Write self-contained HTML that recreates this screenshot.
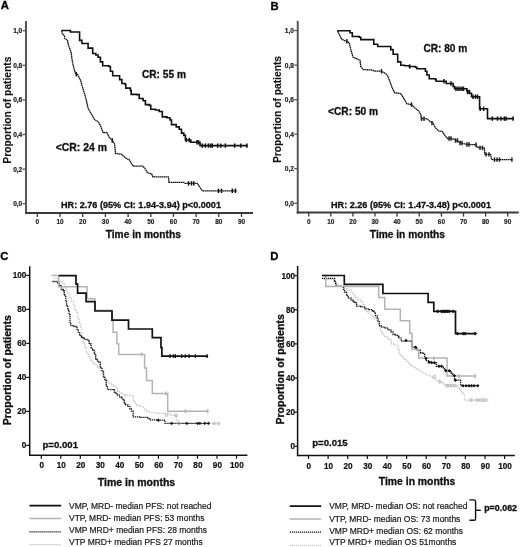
<!DOCTYPE html>
<html><head><meta charset="utf-8"><style>
html,body{margin:0;padding:0;background:#fff;}
svg{display:block;font-family:"Liberation Sans", sans-serif;filter:blur(0.35px);}
</style></head><body>
<svg width="520" height="547" viewBox="0 0 520 547">
<rect width="520" height="547" fill="#fff"/>
<line x1="26" y1="21" x2="26" y2="213.9" stroke="#585858" stroke-width="2"/>
<line x1="25" y1="212.9" x2="253.0" y2="212.9" stroke="#3a3a3a" stroke-width="2"/>
<line x1="22.5" y1="30.7" x2="26" y2="30.7" stroke="#585858" stroke-width="1.3"/>
<text x="22.3" y="33.1" font-size="6.6" font-weight="bold" text-anchor="end" fill="#222" stroke="#222" stroke-width="0.2" >1,0</text>
<line x1="22.5" y1="65.3" x2="26" y2="65.3" stroke="#585858" stroke-width="1.3"/>
<text x="22.3" y="67.7" font-size="6.6" font-weight="bold" text-anchor="end" fill="#222" stroke="#222" stroke-width="0.2" >0,8</text>
<line x1="22.5" y1="99.9" x2="26" y2="99.9" stroke="#585858" stroke-width="1.3"/>
<text x="22.3" y="102.3" font-size="6.6" font-weight="bold" text-anchor="end" fill="#222" stroke="#222" stroke-width="0.2" >0,6</text>
<line x1="22.5" y1="134.5" x2="26" y2="134.5" stroke="#585858" stroke-width="1.3"/>
<text x="22.3" y="136.9" font-size="6.6" font-weight="bold" text-anchor="end" fill="#222" stroke="#222" stroke-width="0.2" >0,4</text>
<line x1="22.5" y1="169.1" x2="26" y2="169.1" stroke="#585858" stroke-width="1.3"/>
<text x="22.3" y="171.5" font-size="6.6" font-weight="bold" text-anchor="end" fill="#222" stroke="#222" stroke-width="0.2" >0,2</text>
<line x1="22.5" y1="203.7" x2="26" y2="203.7" stroke="#585858" stroke-width="1.3"/>
<text x="22.3" y="206.1" font-size="6.6" font-weight="bold" text-anchor="end" fill="#222" stroke="#222" stroke-width="0.2" >0,0</text>
<line x1="37.3" y1="212.9" x2="37.3" y2="216.9" stroke="#3a3a3a" stroke-width="1.3"/>
<text x="0" y="0" font-size="8.1" font-weight="bold" text-anchor="middle" fill="#222" stroke="#222" stroke-width="0.2" transform="translate(37.3,223.8) scale(0.8,1)">0</text>
<line x1="60.0" y1="212.9" x2="60.0" y2="216.9" stroke="#3a3a3a" stroke-width="1.3"/>
<text x="0" y="0" font-size="8.1" font-weight="bold" text-anchor="middle" fill="#222" stroke="#222" stroke-width="0.2" transform="translate(60.0,223.8) scale(0.8,1)">10</text>
<line x1="82.7" y1="212.9" x2="82.7" y2="216.9" stroke="#3a3a3a" stroke-width="1.3"/>
<text x="0" y="0" font-size="8.1" font-weight="bold" text-anchor="middle" fill="#222" stroke="#222" stroke-width="0.2" transform="translate(82.7,223.8) scale(0.8,1)">20</text>
<line x1="105.4" y1="212.9" x2="105.4" y2="216.9" stroke="#3a3a3a" stroke-width="1.3"/>
<text x="0" y="0" font-size="8.1" font-weight="bold" text-anchor="middle" fill="#222" stroke="#222" stroke-width="0.2" transform="translate(105.4,223.8) scale(0.8,1)">30</text>
<line x1="128.1" y1="212.9" x2="128.1" y2="216.9" stroke="#3a3a3a" stroke-width="1.3"/>
<text x="0" y="0" font-size="8.1" font-weight="bold" text-anchor="middle" fill="#222" stroke="#222" stroke-width="0.2" transform="translate(128.1,223.8) scale(0.8,1)">40</text>
<line x1="150.8" y1="212.9" x2="150.8" y2="216.9" stroke="#3a3a3a" stroke-width="1.3"/>
<text x="0" y="0" font-size="8.1" font-weight="bold" text-anchor="middle" fill="#222" stroke="#222" stroke-width="0.2" transform="translate(150.8,223.8) scale(0.8,1)">50</text>
<line x1="173.4" y1="212.9" x2="173.4" y2="216.9" stroke="#3a3a3a" stroke-width="1.3"/>
<text x="0" y="0" font-size="8.1" font-weight="bold" text-anchor="middle" fill="#222" stroke="#222" stroke-width="0.2" transform="translate(173.4,223.8) scale(0.8,1)">60</text>
<line x1="196.1" y1="212.9" x2="196.1" y2="216.9" stroke="#3a3a3a" stroke-width="1.3"/>
<text x="0" y="0" font-size="8.1" font-weight="bold" text-anchor="middle" fill="#222" stroke="#222" stroke-width="0.2" transform="translate(196.1,223.8) scale(0.8,1)">70</text>
<line x1="218.8" y1="212.9" x2="218.8" y2="216.9" stroke="#3a3a3a" stroke-width="1.3"/>
<text x="0" y="0" font-size="8.1" font-weight="bold" text-anchor="middle" fill="#222" stroke="#222" stroke-width="0.2" transform="translate(218.8,223.8) scale(0.8,1)">80</text>
<line x1="241.5" y1="212.9" x2="241.5" y2="216.9" stroke="#3a3a3a" stroke-width="1.3"/>
<text x="0" y="0" font-size="8.1" font-weight="bold" text-anchor="middle" fill="#222" stroke="#222" stroke-width="0.2" transform="translate(241.5,223.8) scale(0.8,1)">90</text>
<line x1="297.75" y1="21" x2="297.75" y2="213.6" stroke="#585858" stroke-width="2"/>
<line x1="296.75" y1="212.6" x2="518.8" y2="212.6" stroke="#3a3a3a" stroke-width="2"/>
<line x1="294.25" y1="30.5" x2="297.75" y2="30.5" stroke="#585858" stroke-width="1.3"/>
<text x="294.0" y="32.9" font-size="6.6" font-weight="bold" text-anchor="end" fill="#222" stroke="#222" stroke-width="0.2" >1,0</text>
<line x1="294.25" y1="65.1" x2="297.75" y2="65.1" stroke="#585858" stroke-width="1.3"/>
<text x="294.0" y="67.5" font-size="6.6" font-weight="bold" text-anchor="end" fill="#222" stroke="#222" stroke-width="0.2" >0,8</text>
<line x1="294.25" y1="99.8" x2="297.75" y2="99.8" stroke="#585858" stroke-width="1.3"/>
<text x="294.0" y="102.2" font-size="6.6" font-weight="bold" text-anchor="end" fill="#222" stroke="#222" stroke-width="0.2" >0,6</text>
<line x1="294.25" y1="134.2" x2="297.75" y2="134.2" stroke="#585858" stroke-width="1.3"/>
<text x="294.0" y="136.6" font-size="6.6" font-weight="bold" text-anchor="end" fill="#222" stroke="#222" stroke-width="0.2" >0,4</text>
<line x1="294.25" y1="168.7" x2="297.75" y2="168.7" stroke="#585858" stroke-width="1.3"/>
<text x="294.0" y="171.1" font-size="6.6" font-weight="bold" text-anchor="end" fill="#222" stroke="#222" stroke-width="0.2" >0,2</text>
<line x1="294.25" y1="203.3" x2="297.75" y2="203.3" stroke="#585858" stroke-width="1.3"/>
<text x="294.0" y="205.7" font-size="6.6" font-weight="bold" text-anchor="end" fill="#222" stroke="#222" stroke-width="0.2" >0,0</text>
<line x1="308.7" y1="212.6" x2="308.7" y2="216.6" stroke="#3a3a3a" stroke-width="1.3"/>
<text x="0" y="0" font-size="8.1" font-weight="bold" text-anchor="middle" fill="#222" stroke="#222" stroke-width="0.2" transform="translate(308.7,223.5) scale(0.8,1)">0</text>
<line x1="330.8" y1="212.6" x2="330.8" y2="216.6" stroke="#3a3a3a" stroke-width="1.3"/>
<text x="0" y="0" font-size="8.1" font-weight="bold" text-anchor="middle" fill="#222" stroke="#222" stroke-width="0.2" transform="translate(330.8,223.5) scale(0.8,1)">10</text>
<line x1="352.9" y1="212.6" x2="352.9" y2="216.6" stroke="#3a3a3a" stroke-width="1.3"/>
<text x="0" y="0" font-size="8.1" font-weight="bold" text-anchor="middle" fill="#222" stroke="#222" stroke-width="0.2" transform="translate(352.9,223.5) scale(0.8,1)">20</text>
<line x1="375.0" y1="212.6" x2="375.0" y2="216.6" stroke="#3a3a3a" stroke-width="1.3"/>
<text x="0" y="0" font-size="8.1" font-weight="bold" text-anchor="middle" fill="#222" stroke="#222" stroke-width="0.2" transform="translate(375.0,223.5) scale(0.8,1)">30</text>
<line x1="397.1" y1="212.6" x2="397.1" y2="216.6" stroke="#3a3a3a" stroke-width="1.3"/>
<text x="0" y="0" font-size="8.1" font-weight="bold" text-anchor="middle" fill="#222" stroke="#222" stroke-width="0.2" transform="translate(397.1,223.5) scale(0.8,1)">40</text>
<line x1="419.2" y1="212.6" x2="419.2" y2="216.6" stroke="#3a3a3a" stroke-width="1.3"/>
<text x="0" y="0" font-size="8.1" font-weight="bold" text-anchor="middle" fill="#222" stroke="#222" stroke-width="0.2" transform="translate(419.2,223.5) scale(0.8,1)">50</text>
<line x1="441.4" y1="212.6" x2="441.4" y2="216.6" stroke="#3a3a3a" stroke-width="1.3"/>
<text x="0" y="0" font-size="8.1" font-weight="bold" text-anchor="middle" fill="#222" stroke="#222" stroke-width="0.2" transform="translate(441.4,223.5) scale(0.8,1)">60</text>
<line x1="463.5" y1="212.6" x2="463.5" y2="216.6" stroke="#3a3a3a" stroke-width="1.3"/>
<text x="0" y="0" font-size="8.1" font-weight="bold" text-anchor="middle" fill="#222" stroke="#222" stroke-width="0.2" transform="translate(463.5,223.5) scale(0.8,1)">70</text>
<line x1="485.6" y1="212.6" x2="485.6" y2="216.6" stroke="#3a3a3a" stroke-width="1.3"/>
<text x="0" y="0" font-size="8.1" font-weight="bold" text-anchor="middle" fill="#222" stroke="#222" stroke-width="0.2" transform="translate(485.6,223.5) scale(0.8,1)">80</text>
<line x1="507.7" y1="212.6" x2="507.7" y2="216.6" stroke="#3a3a3a" stroke-width="1.3"/>
<text x="0" y="0" font-size="8.1" font-weight="bold" text-anchor="middle" fill="#222" stroke="#222" stroke-width="0.2" transform="translate(507.7,223.5) scale(0.8,1)">90</text>
<text x="0.8" y="9.3" font-size="11.3" font-weight="bold" text-anchor="start" fill="#000" stroke="#000" stroke-width="0.3" >A</text>
<text x="270.6" y="9.6" font-size="11.3" font-weight="bold" text-anchor="start" fill="#000" stroke="#000" stroke-width="0.3" >B</text>
<text x="0.3" y="260.3" font-size="11.3" font-weight="bold" text-anchor="start" fill="#000" stroke="#000" stroke-width="0.3" >C</text>
<text x="270.3" y="260.3" font-size="11.3" font-weight="bold" text-anchor="start" fill="#000" stroke="#000" stroke-width="0.3" >D</text>
<text x="0" y="0" font-size="10.25" font-weight="bold" text-anchor="middle" fill="#111" stroke="#111" stroke-width="0.1" transform="translate(11.3,110.1) rotate(-90)">Proportion of patients</text>
<text x="0" y="0" font-size="10.25" font-weight="bold" text-anchor="middle" fill="#111" stroke="#111" stroke-width="0.1" transform="translate(281.0,109.5) rotate(-90)">Proportion of patients</text>
<text x="0" y="0" font-size="10.57" font-weight="bold" text-anchor="middle" fill="#111" stroke="#111" stroke-width="0.3" transform="translate(10.8,370.2) rotate(-90)">Proportion of patients</text>
<text x="0" y="0" font-size="10.57" font-weight="bold" text-anchor="middle" fill="#111" stroke="#111" stroke-width="0.3" transform="translate(283.7,369.4) rotate(-90)">Proportion of patients</text>
<text x="143.3" y="237.7" font-size="10.2" font-weight="bold" text-anchor="middle" fill="#111" stroke="#111" stroke-width="0.3" >Time in months</text>
<text x="407.4" y="238.1" font-size="10.2" font-weight="bold" text-anchor="middle" fill="#111" stroke="#111" stroke-width="0.3" >Time in months</text>
<text x="136.5" y="485.6" font-size="10.5" font-weight="bold" text-anchor="middle" fill="#111" stroke="#111" stroke-width="0.3" >Time in months</text>
<text x="417.1" y="485.4" font-size="10.4" font-weight="bold" text-anchor="middle" fill="#111" stroke="#111" stroke-width="0.3" >Time in months</text>
<text x="142.0" y="78.0" font-size="10.15" font-weight="bold" text-anchor="start" fill="#111" stroke="#111" stroke-width="0.3" >CR: 55 m</text>
<text x="55.8" y="151.0" font-size="10.4" font-weight="bold" text-anchor="start" fill="#111" stroke="#111" stroke-width="0.3" >&lt;CR: 24 m</text>
<text x="61.0" y="208.0" font-size="9.1" font-weight="bold" text-anchor="start" fill="#111" stroke="#111" stroke-width="0.3" >HR: 2.76 (95% CI: 1.94-3.94) p&lt;0.0001</text>
<text x="423.4" y="51.7" font-size="10.15" font-weight="bold" text-anchor="start" fill="#111" stroke="#111" stroke-width="0.3" >CR: 80 m</text>
<text x="328.0" y="115.0" font-size="10.2" font-weight="bold" text-anchor="start" fill="#111" stroke="#111" stroke-width="0.3" >&lt;CR: 50 m</text>
<text x="331.0" y="207.9" font-size="9.1" font-weight="bold" text-anchor="start" fill="#111" stroke="#111" stroke-width="0.3" >HR: 2.26 (95% CI: 1.47-3.48) p&lt;0.0001</text>
<path d="M61.5 30.5L61.7 30.9L62.4 33.8L64.6 36.0L64.6 38.2L67.5 40.4L68.2 44.1L69.7 48.5L71.2 52.9L71.9 58.7L72.6 63.1L74.1 68.9L75.5 73.3L77.7 74.8L79.2 77.7L80.7 80.6L82.1 85.7L83.6 90.9L85.0 95.3L86.5 101.1L88.0 108.0L89.2 110.4L91.5 114.2L94.6 119.6L98.5 121.9L100.8 126.5L103.1 132.7L106.9 132.7L109.2 137.3L112.3 140.4L114.6 144.2L115.5 153.5L121.5 154.2L126.2 158.5L129.2 159.6L130.8 162.7L133.4 166.2L142.8 166.2L144.8 168.2L147.5 172.9L151.5 173.6L152.9 176.9L168.4 176.9L169.0 182.3L183.8 182.3L185.2 183.4L197.3 183.4L202.3 190.8L236.9 190.8" fill="none" stroke="#111" stroke-width="1.3" stroke-dasharray="1.6 0.4"/>
<path d="M61.5 30.5H70.4V32.0H77.8H79.6V40.4H81.9V43.5H88.1V48.1H91.9H92.7V53.5H95.8V55.0H98.1V57.3H100.4V61.9H102.7V65.8H108.8V66.5H110.4V71.2H112.7V75.8H118.1H119.6V79.6H121.9V83.5H125.0V84.2H125.8V88.1H130.4V90.4H131.2V94.4H136.9V94.6H139.2V98.5H143.1V100.8H145.4V104.6H149.2V105.4H150.8V109.2H155.4V110.0H159.2V111.5H162.3V116.9H166.9V117.7H170.0V120.0H171.5V124.6H176.2V126.9H179.2V129.2H181.5V133.1H183.8V135.4H185.4V140.0H189.2H190.8V142.3H198.5H200.0V145.6H247.7" fill="none" stroke="#111" stroke-width="1.6"/>
<line x1="186.2" y1="137.8" x2="186.2" y2="142.2" stroke="#111" stroke-width="1.5"/>
<line x1="189.2" y1="137.8" x2="189.2" y2="142.2" stroke="#111" stroke-width="1.5"/>
<line x1="197" y1="140.10000000000002" x2="197" y2="144.5" stroke="#111" stroke-width="1.5"/>
<line x1="198.5" y1="140.10000000000002" x2="198.5" y2="144.5" stroke="#111" stroke-width="1.5"/>
<line x1="202.3" y1="143.4" x2="202.3" y2="147.79999999999998" stroke="#111" stroke-width="1.5"/>
<line x1="205.4" y1="143.4" x2="205.4" y2="147.79999999999998" stroke="#111" stroke-width="1.5"/>
<line x1="208.5" y1="143.4" x2="208.5" y2="147.79999999999998" stroke="#111" stroke-width="1.5"/>
<line x1="210.8" y1="143.4" x2="210.8" y2="147.79999999999998" stroke="#111" stroke-width="1.5"/>
<line x1="212.3" y1="143.4" x2="212.3" y2="147.79999999999998" stroke="#111" stroke-width="1.5"/>
<line x1="217.7" y1="143.4" x2="217.7" y2="147.79999999999998" stroke="#111" stroke-width="1.5"/>
<line x1="220.8" y1="143.4" x2="220.8" y2="147.79999999999998" stroke="#111" stroke-width="1.5"/>
<line x1="225.4" y1="143.4" x2="225.4" y2="147.79999999999998" stroke="#111" stroke-width="1.5"/>
<line x1="234.6" y1="143.4" x2="234.6" y2="147.79999999999998" stroke="#111" stroke-width="1.5"/>
<line x1="240.8" y1="143.4" x2="240.8" y2="147.79999999999998" stroke="#111" stroke-width="1.5"/>
<line x1="246.9" y1="143.4" x2="246.9" y2="147.79999999999998" stroke="#111" stroke-width="1.5"/>
<line x1="188.5" y1="181.20000000000002" x2="188.5" y2="185.6" stroke="#111" stroke-width="1.5"/>
<line x1="191.5" y1="181.20000000000002" x2="191.5" y2="185.6" stroke="#111" stroke-width="1.5"/>
<line x1="193.8" y1="181.20000000000002" x2="193.8" y2="185.6" stroke="#111" stroke-width="1.5"/>
<line x1="112.3" y1="138.20000000000002" x2="112.3" y2="142.6" stroke="#111" stroke-width="1.5"/>
<line x1="76.3" y1="72.0" x2="76.3" y2="76.4" stroke="#111" stroke-width="1.5"/>
<line x1="218.5" y1="188.60000000000002" x2="218.5" y2="193.0" stroke="#111" stroke-width="1.5"/>
<line x1="221.5" y1="188.60000000000002" x2="221.5" y2="193.0" stroke="#111" stroke-width="1.5"/>
<line x1="232.3" y1="188.60000000000002" x2="232.3" y2="193.0" stroke="#111" stroke-width="1.5"/>
<line x1="235.4" y1="188.60000000000002" x2="235.4" y2="193.0" stroke="#111" stroke-width="1.5"/>
<path d="M337.4 30.8L339.2 34.2L341.5 38.8L343.8 40.4L346.9 41.2L349.2 42.7L350.8 49.6L353.1 57.3L356.9 58.8L360.0 60.4L360.8 66.5L363.1 69.6L371.5 69.9L374.6 71.2L381.5 71.2L385.4 73.5L387.7 75.8L390.0 81.9L392.3 88.1L394.6 92.7L400.8 93.5L403.1 97.3L406.9 103.8L411.5 104.6L414.6 107.7L418.5 110.8L420.8 114.6L421.5 118.5L426.9 118.8L430.0 121.5L433.1 123.1L435.4 127.7L438.5 130.8L442.3 131.5L445.4 136.2L447.7 138.5L452.3 138.5L455.4 140.0L458.5 141.5L461.5 143.1L466.9 144.4L476.1 144.8L477.3 147.3L484.2 147.9L484.8 154.2L490.6 154.5L491.7 159.6L511.9 159.6" fill="none" stroke="#111" stroke-width="1.3" stroke-dasharray="1.6 0.4"/>
<path d="M337.4 30.8H348.5H350.0V32.7H352.3V36.5H359.2V37.3H360.8V39.6H371.5H373.8V44.2H377.7V46.5H388.5H390.8V49.6H393.1V54.2H397.7V61.9H400.8V65.3H404.6V65.8H409.2V66.5H415.4V67.3H416.9V68.8H423.1H425.4V71.2H426.9V75.0H429.2V78.8H435.4V79.6H436.2V81.2H443.1H446.2V83.5H450.8H453.1V86.5H454.6V88.8H465.2H466.9V91.0H469.2V93.3H471.5V96.7H479.0H479.6V108.8H487.1H487.5V118.6H513.6" fill="none" stroke="#111" stroke-width="1.6"/>
<line x1="409.7" y1="64.3" x2="409.7" y2="68.7" stroke="#111" stroke-width="1.5"/>
<line x1="444" y1="79.0" x2="444" y2="83.4" stroke="#111" stroke-width="1.5"/>
<line x1="451" y1="81.3" x2="451" y2="85.7" stroke="#111" stroke-width="1.5"/>
<line x1="456" y1="86.6" x2="456" y2="91.0" stroke="#111" stroke-width="1.5"/>
<line x1="458" y1="86.6" x2="458" y2="91.0" stroke="#111" stroke-width="1.5"/>
<line x1="460" y1="86.6" x2="460" y2="91.0" stroke="#111" stroke-width="1.5"/>
<line x1="462" y1="86.6" x2="462" y2="91.0" stroke="#111" stroke-width="1.5"/>
<line x1="463.5" y1="86.6" x2="463.5" y2="91.0" stroke="#111" stroke-width="1.5"/>
<line x1="467.5" y1="89.8" x2="467.5" y2="94.2" stroke="#111" stroke-width="1.5"/>
<line x1="469.5" y1="89.8" x2="469.5" y2="94.2" stroke="#111" stroke-width="1.5"/>
<line x1="473" y1="94.5" x2="473" y2="98.9" stroke="#111" stroke-width="1.5"/>
<line x1="475.5" y1="94.5" x2="475.5" y2="98.9" stroke="#111" stroke-width="1.5"/>
<line x1="477.5" y1="94.5" x2="477.5" y2="98.9" stroke="#111" stroke-width="1.5"/>
<line x1="480.2" y1="106.6" x2="480.2" y2="111.0" stroke="#111" stroke-width="1.5"/>
<line x1="483.6" y1="106.6" x2="483.6" y2="111.0" stroke="#111" stroke-width="1.5"/>
<line x1="492.3" y1="116.39999999999999" x2="492.3" y2="120.8" stroke="#111" stroke-width="1.5"/>
<line x1="497.5" y1="116.39999999999999" x2="497.5" y2="120.8" stroke="#111" stroke-width="1.5"/>
<line x1="501" y1="116.39999999999999" x2="501" y2="120.8" stroke="#111" stroke-width="1.5"/>
<line x1="504.4" y1="116.39999999999999" x2="504.4" y2="120.8" stroke="#111" stroke-width="1.5"/>
<line x1="506.1" y1="116.39999999999999" x2="506.1" y2="120.8" stroke="#111" stroke-width="1.5"/>
<line x1="513.1" y1="116.39999999999999" x2="513.1" y2="120.8" stroke="#111" stroke-width="1.5"/>
<line x1="346.9" y1="39.0" x2="346.9" y2="43.400000000000006" stroke="#222" stroke-width="1.5"/>
<line x1="381.5" y1="69.0" x2="381.5" y2="73.4" stroke="#222" stroke-width="1.5"/>
<line x1="411.5" y1="102.39999999999999" x2="411.5" y2="106.8" stroke="#222" stroke-width="1.5"/>
<line x1="421.5" y1="116.5" x2="421.5" y2="120.9" stroke="#222" stroke-width="1.5"/>
<line x1="424" y1="116.5" x2="424" y2="120.9" stroke="#222" stroke-width="1.5"/>
<line x1="432" y1="120.89999999999999" x2="432" y2="125.3" stroke="#222" stroke-width="1.5"/>
<line x1="449" y1="136.3" x2="449" y2="140.7" stroke="#222" stroke-width="1.5"/>
<line x1="451" y1="136.3" x2="451" y2="140.7" stroke="#222" stroke-width="1.5"/>
<line x1="455.5" y1="138.3" x2="455.5" y2="142.7" stroke="#222" stroke-width="1.5"/>
<line x1="457.5" y1="138.3" x2="457.5" y2="142.7" stroke="#222" stroke-width="1.5"/>
<line x1="460" y1="140.8" x2="460" y2="145.2" stroke="#222" stroke-width="1.5"/>
<line x1="462" y1="140.8" x2="462" y2="145.2" stroke="#222" stroke-width="1.5"/>
<line x1="467" y1="142.3" x2="467" y2="146.7" stroke="#222" stroke-width="1.5"/>
<line x1="469" y1="142.3" x2="469" y2="146.7" stroke="#222" stroke-width="1.5"/>
<line x1="476" y1="142.60000000000002" x2="476" y2="147.0" stroke="#222" stroke-width="1.5"/>
<line x1="480" y1="145.70000000000002" x2="480" y2="150.1" stroke="#222" stroke-width="1.5"/>
<line x1="482.5" y1="145.70000000000002" x2="482.5" y2="150.1" stroke="#222" stroke-width="1.5"/>
<line x1="486" y1="152.20000000000002" x2="486" y2="156.6" stroke="#222" stroke-width="1.5"/>
<line x1="489" y1="152.20000000000002" x2="489" y2="156.6" stroke="#222" stroke-width="1.5"/>
<line x1="494.5" y1="157.4" x2="494.5" y2="161.79999999999998" stroke="#222" stroke-width="1.5"/>
<line x1="497" y1="157.4" x2="497" y2="161.79999999999998" stroke="#222" stroke-width="1.5"/>
<line x1="499.5" y1="157.4" x2="499.5" y2="161.79999999999998" stroke="#222" stroke-width="1.5"/>
<line x1="511.9" y1="157.4" x2="511.9" y2="161.79999999999998" stroke="#222" stroke-width="1.5"/>
<line x1="29.7" y1="266.3" x2="29.7" y2="455.9" stroke="#111" stroke-width="1.5"/>
<line x1="29.0" y1="455.2" x2="247.4" y2="455.2" stroke="#111" stroke-width="1.5"/>
<line x1="26.2" y1="275.4" x2="29.7" y2="275.4" stroke="#111" stroke-width="1.2"/>
<text x="26.3" y="278.3" font-size="8.2" font-weight="bold" text-anchor="end" fill="#111" stroke="#111" stroke-width="0.2" >100</text>
<line x1="26.2" y1="309.4" x2="29.7" y2="309.4" stroke="#111" stroke-width="1.2"/>
<text x="26.3" y="312.3" font-size="8.2" font-weight="bold" text-anchor="end" fill="#111" stroke="#111" stroke-width="0.2" >80</text>
<line x1="26.2" y1="343.4" x2="29.7" y2="343.4" stroke="#111" stroke-width="1.2"/>
<text x="26.3" y="346.3" font-size="8.2" font-weight="bold" text-anchor="end" fill="#111" stroke="#111" stroke-width="0.2" >60</text>
<line x1="26.2" y1="377.4" x2="29.7" y2="377.4" stroke="#111" stroke-width="1.2"/>
<text x="26.3" y="380.3" font-size="8.2" font-weight="bold" text-anchor="end" fill="#111" stroke="#111" stroke-width="0.2" >40</text>
<line x1="26.2" y1="411.4" x2="29.7" y2="411.4" stroke="#111" stroke-width="1.2"/>
<text x="26.3" y="414.3" font-size="8.2" font-weight="bold" text-anchor="end" fill="#111" stroke="#111" stroke-width="0.2" >20</text>
<line x1="26.2" y1="445.4" x2="29.7" y2="445.4" stroke="#111" stroke-width="1.2"/>
<text x="26.3" y="448.3" font-size="8.2" font-weight="bold" text-anchor="end" fill="#111" stroke="#111" stroke-width="0.2" >0</text>
<line x1="41.3" y1="455.2" x2="41.3" y2="458.7" stroke="#111" stroke-width="1.2"/>
<text x="41.7" y="468.4" font-size="8.2" font-weight="bold" text-anchor="middle" fill="#111" stroke="#111" stroke-width="0.2" >0</text>
<line x1="60.8" y1="455.2" x2="60.8" y2="458.7" stroke="#111" stroke-width="1.2"/>
<text x="61.2" y="468.4" font-size="8.2" font-weight="bold" text-anchor="middle" fill="#111" stroke="#111" stroke-width="0.2" >10</text>
<line x1="80.3" y1="455.2" x2="80.3" y2="458.7" stroke="#111" stroke-width="1.2"/>
<text x="80.7" y="468.4" font-size="8.2" font-weight="bold" text-anchor="middle" fill="#111" stroke="#111" stroke-width="0.2" >20</text>
<line x1="99.9" y1="455.2" x2="99.9" y2="458.7" stroke="#111" stroke-width="1.2"/>
<text x="100.3" y="468.4" font-size="8.2" font-weight="bold" text-anchor="middle" fill="#111" stroke="#111" stroke-width="0.2" >30</text>
<line x1="119.4" y1="455.2" x2="119.4" y2="458.7" stroke="#111" stroke-width="1.2"/>
<text x="119.8" y="468.4" font-size="8.2" font-weight="bold" text-anchor="middle" fill="#111" stroke="#111" stroke-width="0.2" >40</text>
<line x1="138.9" y1="455.2" x2="138.9" y2="458.7" stroke="#111" stroke-width="1.2"/>
<text x="139.3" y="468.4" font-size="8.2" font-weight="bold" text-anchor="middle" fill="#111" stroke="#111" stroke-width="0.2" >50</text>
<line x1="158.4" y1="455.2" x2="158.4" y2="458.7" stroke="#111" stroke-width="1.2"/>
<text x="158.8" y="468.4" font-size="8.2" font-weight="bold" text-anchor="middle" fill="#111" stroke="#111" stroke-width="0.2" >60</text>
<line x1="177.9" y1="455.2" x2="177.9" y2="458.7" stroke="#111" stroke-width="1.2"/>
<text x="178.3" y="468.4" font-size="8.2" font-weight="bold" text-anchor="middle" fill="#111" stroke="#111" stroke-width="0.2" >70</text>
<line x1="197.5" y1="455.2" x2="197.5" y2="458.7" stroke="#111" stroke-width="1.2"/>
<text x="197.9" y="468.4" font-size="8.2" font-weight="bold" text-anchor="middle" fill="#111" stroke="#111" stroke-width="0.2" >80</text>
<line x1="217.0" y1="455.2" x2="217.0" y2="458.7" stroke="#111" stroke-width="1.2"/>
<text x="217.4" y="468.4" font-size="8.2" font-weight="bold" text-anchor="middle" fill="#111" stroke="#111" stroke-width="0.2" >90</text>
<line x1="236.5" y1="455.2" x2="236.5" y2="458.7" stroke="#111" stroke-width="1.2"/>
<text x="236.9" y="468.4" font-size="8.2" font-weight="bold" text-anchor="middle" fill="#111" stroke="#111" stroke-width="0.2" >100</text>
<line x1="297.6" y1="266.0" x2="297.6" y2="456.09999999999997" stroke="#111" stroke-width="1.5"/>
<line x1="296.90000000000003" y1="455.4" x2="514.8" y2="455.4" stroke="#111" stroke-width="1.5"/>
<line x1="294.1" y1="275.6" x2="297.6" y2="275.6" stroke="#111" stroke-width="1.2"/>
<text x="295.1" y="278.5" font-size="8.2" font-weight="bold" text-anchor="end" fill="#111" stroke="#111" stroke-width="0.2" >100</text>
<line x1="294.1" y1="309.74" x2="297.6" y2="309.74" stroke="#111" stroke-width="1.2"/>
<text x="295.1" y="312.6" font-size="8.2" font-weight="bold" text-anchor="end" fill="#111" stroke="#111" stroke-width="0.2" >80</text>
<line x1="294.1" y1="343.88" x2="297.6" y2="343.88" stroke="#111" stroke-width="1.2"/>
<text x="295.1" y="346.8" font-size="8.2" font-weight="bold" text-anchor="end" fill="#111" stroke="#111" stroke-width="0.2" >60</text>
<line x1="294.1" y1="378.02000000000004" x2="297.6" y2="378.02000000000004" stroke="#111" stroke-width="1.2"/>
<text x="295.1" y="380.9" font-size="8.2" font-weight="bold" text-anchor="end" fill="#111" stroke="#111" stroke-width="0.2" >40</text>
<line x1="294.1" y1="412.16" x2="297.6" y2="412.16" stroke="#111" stroke-width="1.2"/>
<text x="295.1" y="415.1" font-size="8.2" font-weight="bold" text-anchor="end" fill="#111" stroke="#111" stroke-width="0.2" >20</text>
<line x1="294.1" y1="446.3" x2="297.6" y2="446.3" stroke="#111" stroke-width="1.2"/>
<text x="295.1" y="449.2" font-size="8.2" font-weight="bold" text-anchor="end" fill="#111" stroke="#111" stroke-width="0.2" >0</text>
<line x1="308.5" y1="455.4" x2="308.5" y2="458.9" stroke="#111" stroke-width="1.2"/>
<text x="308.9" y="468.59999999999997" font-size="8.2" font-weight="bold" text-anchor="middle" fill="#111" stroke="#111" stroke-width="0.2" >0</text>
<line x1="328.1" y1="455.4" x2="328.1" y2="458.9" stroke="#111" stroke-width="1.2"/>
<text x="328.5" y="468.59999999999997" font-size="8.2" font-weight="bold" text-anchor="middle" fill="#111" stroke="#111" stroke-width="0.2" >10</text>
<line x1="347.7" y1="455.4" x2="347.7" y2="458.9" stroke="#111" stroke-width="1.2"/>
<text x="348.1" y="468.59999999999997" font-size="8.2" font-weight="bold" text-anchor="middle" fill="#111" stroke="#111" stroke-width="0.2" >20</text>
<line x1="367.3" y1="455.4" x2="367.3" y2="458.9" stroke="#111" stroke-width="1.2"/>
<text x="367.7" y="468.59999999999997" font-size="8.2" font-weight="bold" text-anchor="middle" fill="#111" stroke="#111" stroke-width="0.2" >30</text>
<line x1="386.9" y1="455.4" x2="386.9" y2="458.9" stroke="#111" stroke-width="1.2"/>
<text x="387.3" y="468.59999999999997" font-size="8.2" font-weight="bold" text-anchor="middle" fill="#111" stroke="#111" stroke-width="0.2" >40</text>
<line x1="406.6" y1="455.4" x2="406.6" y2="458.9" stroke="#111" stroke-width="1.2"/>
<text x="406.9" y="468.59999999999997" font-size="8.2" font-weight="bold" text-anchor="middle" fill="#111" stroke="#111" stroke-width="0.2" >50</text>
<line x1="426.2" y1="455.4" x2="426.2" y2="458.9" stroke="#111" stroke-width="1.2"/>
<text x="426.6" y="468.59999999999997" font-size="8.2" font-weight="bold" text-anchor="middle" fill="#111" stroke="#111" stroke-width="0.2" >60</text>
<line x1="445.8" y1="455.4" x2="445.8" y2="458.9" stroke="#111" stroke-width="1.2"/>
<text x="446.2" y="468.59999999999997" font-size="8.2" font-weight="bold" text-anchor="middle" fill="#111" stroke="#111" stroke-width="0.2" >70</text>
<line x1="465.4" y1="455.4" x2="465.4" y2="458.9" stroke="#111" stroke-width="1.2"/>
<text x="465.8" y="468.59999999999997" font-size="8.2" font-weight="bold" text-anchor="middle" fill="#111" stroke="#111" stroke-width="0.2" >80</text>
<line x1="485.0" y1="455.4" x2="485.0" y2="458.9" stroke="#111" stroke-width="1.2"/>
<text x="485.4" y="468.59999999999997" font-size="8.2" font-weight="bold" text-anchor="middle" fill="#111" stroke="#111" stroke-width="0.2" >90</text>
<line x1="504.6" y1="455.4" x2="504.6" y2="458.9" stroke="#111" stroke-width="1.2"/>
<text x="505.0" y="468.59999999999997" font-size="8.2" font-weight="bold" text-anchor="middle" fill="#111" stroke="#111" stroke-width="0.2" >100</text>
<text x="42.5" y="447.6" font-size="9.6" font-weight="bold" text-anchor="start" fill="#111" stroke="#111" stroke-width="0.3" >p=0.001</text>
<text x="312.2" y="446.3" font-size="9.6" font-weight="bold" text-anchor="start" fill="#111" stroke="#111" stroke-width="0.3" >p=0.015</text>
<path d="M53.5 278.4L57.7 278.4H58.4V279.9H59.7V281.5H60.4H62.0V283.8H63.5H64.2V287.1H65.8V290.3H66.5H67.3V293.4H68.1H69.2V298.0H70.4H71.6V301.1H72.7H73.5V304.9H74.2H74.8V310.1H75.5H76.5V312.8H77.4H77.8V318.3H78.3H79.2V322.9H80.1H80.5V327.4H81.0H81.5V332.9H81.9H82.4V338.4H82.9H83.3V343.9H83.8H84.7V347.5H85.6H86.5V353.0H87.4H88.3V356.7H89.3H90.2V360.3H91.1H91.8V361.7H93.1V363.1H93.8H94.5V364.5H95.9V365.8H96.6H97.3V367.2H98.6V368.6H99.3H100.0V370.4H101.3V372.2H102.0H102.7V374.5H104.1V376.8H104.8H105.5V378.6H106.8V380.4H107.5H108.2V381.8H109.6V383.2H110.3H111.7V385.0H113.0H113.9V386.4H115.8V387.8H116.7H117.6V391.4H118.5H119.4V392.8H121.3V394.1H122.2H124.9V395.1H127.6H129.8V395.8H132.1H133.1V400.6H134.0H134.7V403.0H136.2V405.4H136.9H139.8V406.3H142.7H143.4V408.2H144.9V410.2H145.6H146.8V411.4H149.2V412.7H150.4H157.6V413.4H164.8H170.5V415.4H176.2H176.9V420.0H177.7H178.1V423.5H178.5L219.2 423.5" fill="none" stroke="#c2c2c2" stroke-width="1.1" stroke-dasharray="1.2 0.8"/>
<path d="M52.3 281.5L57.3 281.5H57.7V283.4H58.1H59.2V285.7H60.4H61.3V289.5H62.3H63.2V290.7H64.2L64.2 294.9H65.0V295.7H65.8L65.8 301.8H66.5V305.5H67.3H67.8V310.0H68.2H69.1V314.6H70.0L70.0 323.8H71.0V325.6H71.9H74.2V326.5H76.5H77.0V330.2H77.4H78.3V332.9H79.2H79.7V335.6H80.1H81.5V337.5H82.9H84.2V339.3H85.6H86.9V340.2H88.3H89.2V343.9H90.2H91.1V348.4H92.0H92.7V350.2H94.0V352.1H94.7L94.7 354.8H95.7V359.4H96.6H97.3V360.8H98.6V362.2H99.3H100.2V367.6H101.1H102.0V371.3H103.0H103.5V376.8H103.9H104.8V380.4H105.7H106.2V385.9H106.6H107.5V389.6H108.4L113.9 389.6H114.3V392.3H114.8H115.7V393.7H117.6V395.1H118.5H119.4V396.9H120.3H121.2V398.2H123.1V399.6H124.0H124.2V403.5H124.4H125.6V404.9H128.0V406.3H129.2H129.9V408.8H131.4V411.2H132.1H133.1V416.9H134.0H140.8V417.3H147.5H148.2V418.6H149.7V419.8H150.4H157.5V420.2H164.6H165.0V423.4H165.4L210.0 423.4" fill="none" stroke="#111" stroke-width="1.3" stroke-dasharray="1.3 0.7"/>
<path d="M51.5 275.6H58.6V286.7H87.1V298.7H94.8V310.2H111.5H112.1V320.8H113.1V332.3H116.9V343.8H118.7V354.4H143.7H144.6V367.9H146.5V380.4H152.3V393.5H167.7V411.2H207.7" fill="none" stroke="#b3b3b3" stroke-width="1.5"/>
<path d="M58.8 275.6H76.0V284.2H77.6V284.9V293.2H86.1V301.7H95.0V311.0H112.0V320.2H128.5V329.0H152.3V337.7H160.0H161.0V347.7H161.9V356.1H208.1" fill="none" stroke="#111" stroke-width="1.7"/>
<line x1="170" y1="354.3" x2="170" y2="357.90000000000003" stroke="#111" stroke-width="1.4"/>
<line x1="173.5" y1="354.3" x2="173.5" y2="357.90000000000003" stroke="#111" stroke-width="1.4"/>
<line x1="175.3" y1="354.3" x2="175.3" y2="357.90000000000003" stroke="#111" stroke-width="1.4"/>
<line x1="181.7" y1="354.3" x2="181.7" y2="357.90000000000003" stroke="#111" stroke-width="1.4"/>
<line x1="185.4" y1="354.3" x2="185.4" y2="357.90000000000003" stroke="#111" stroke-width="1.4"/>
<line x1="189.1" y1="354.3" x2="189.1" y2="357.90000000000003" stroke="#111" stroke-width="1.4"/>
<line x1="195.4" y1="354.3" x2="195.4" y2="357.90000000000003" stroke="#111" stroke-width="1.4"/>
<line x1="207.1" y1="354.3" x2="207.1" y2="357.90000000000003" stroke="#111" stroke-width="1.4"/>
<line x1="141.5" y1="352.4" x2="141.5" y2="356.4" stroke="#b3b3b3" stroke-width="1.5"/>
<line x1="166" y1="391.5" x2="166" y2="395.5" stroke="#b3b3b3" stroke-width="1.5"/>
<line x1="185.4" y1="409.2" x2="185.4" y2="413.2" stroke="#b3b3b3" stroke-width="1.5"/>
<line x1="207.7" y1="409.2" x2="207.7" y2="413.2" stroke="#b3b3b3" stroke-width="1.5"/>
<path d="M156.6 420.2L158.3 418.5L160.0 420.2L158.3 421.9Z" fill="#111"/>
<path d="M169.9 423.4L171.6 421.7L173.3 423.4L171.6 425.1Z" fill="#111"/>
<path d="M185.1 423.4L186.8 421.7L188.5 423.4L186.8 425.1Z" fill="#111"/>
<path d="M195.9 423.4L197.6 421.7L199.3 423.4L197.6 425.1Z" fill="#111"/>
<path d="M198.1 423.4L199.8 421.7L201.5 423.4L199.8 425.1Z" fill="#111"/>
<path d="M203.1 423.4L204.8 421.7L206.5 423.4L204.8 425.1Z" fill="#111"/>
<path d="M206.7 423.4L208.4 421.7L210.1 423.4L208.4 425.1Z" fill="#111"/>
<circle cx="166.6" cy="415" r="1.4" fill="none" stroke="#b0b0b0" stroke-width="0.9"/>
<circle cx="176" cy="415.4" r="1.4" fill="none" stroke="#b0b0b0" stroke-width="0.9"/>
<circle cx="178.9" cy="423.4" r="1.4" fill="none" stroke="#b0b0b0" stroke-width="0.9"/>
<circle cx="214.2" cy="423.4" r="1.4" fill="none" stroke="#b0b0b0" stroke-width="0.9"/>
<circle cx="218.5" cy="423.4" r="1.4" fill="none" stroke="#b0b0b0" stroke-width="0.9"/>
<path d="M323.3 279.4L332.9 279.4H333.8V281.8H335.8V284.2H336.7H338.1V285.6H341.1V287.1H342.5H343.9V288.6H346.9V290.0H348.3L350.2 290.1H351.2V292.8H352.2H352.9V294.5H354.2V296.2H354.9H355.8V297.9H357.4V299.5H358.3H360.3V301.5H362.3H363.0V304.9H363.6H364.6V310.3H365.7H366.5V311.6H368.2V313.0H369.0H370.4V315.0H371.7H372.4V316.4H373.7V317.7H374.4H375.1V319.0H376.4V320.4H377.1H377.8V323.1H379.1V325.8H379.8H380.5V331.1H381.1H381.8V333.1H383.1V335.2H383.8H384.8V336.5H386.9V337.9H387.9H388.6V339.2H389.9V340.6H390.6H391.2V343.9H391.9H394.6V345.0H397.3H398.0V349.6H399.3V354.2H400.0H400.9V355.9H402.6V357.7H403.5H404.4V359.4H406.0V361.1H406.9H407.8V362.9H409.5V364.6H410.4H411.2V365.9H412.9V367.2H413.8H415.6V368.9H417.3H417.9V370.2H419.2V371.5H419.9H422.5V373.3H425.1H426.4V375.0H427.7H429.9V376.7H432.0H432.9V378.4H433.7H435.4V380.2H437.2H439.4V381.9H441.5H442.6V383.6H444.7V385.4H445.8H451.5V385.7H457.1H458.0V388.1H459.7V390.6H460.6H461.5V392.3H463.1V394.0H464.0H464.4V400.1H464.9L486.5 400.1" fill="none" stroke="#c2c2c2" stroke-width="1.1" stroke-dasharray="1.2 0.8"/>
<path d="M322.0 278.4L334.3 278.4H334.6V281.0H335.0H335.4V283.4H335.8H336.0V286.3H336.2L343.5 286.3L343.5 289.4H344.5V292.1H345.5H346.5V294.8H347.5L347.5 296.8H348.9V298.2H350.2H351.2V300.2H352.2H353.1V301.5H354.8V302.9H355.6H356.6V306.2H357.6H360.6V306.9H363.6H365.0V308.9H366.3H369.0V309.6H371.7H372.4V311.0H373.7V312.3H374.4H375.4V315.7H376.4H377.1V317.7H377.8H378.1V321.7H378.5H379.5V325.8H380.5H381.9V327.1H383.2H384.9V327.8H386.5H387.9V329.8H389.2H390.9V331.8H392.6H393.0V334.5H393.3H395.0V335.2H396.6H397.5V336.5H399.1V337.9H400.0H401.1V341.1H402.3L409.1 341.1H410.5V341.5H411.9H412.1V347.0H412.4L415.1 347.0H415.8V348.4H417.1V349.8H417.8H418.8V350.2H419.7H420.4V353.0H421.0H422.6V353.4H424.2H424.7V358.0H425.2H426.3V360.7H427.4H428.4V362.0H429.4H432.4V362.9H435.5H436.4V366.3H437.2L442.4 366.3H443.0V367.6H444.4V368.9H445.0H445.4V370.7H445.8L449.3 370.7H449.9V372.0H451.2V373.3H451.9H452.8V375.8H453.6H454.5V380.2H455.4L460.6 380.2L460.6 385.7L477.9 385.7" fill="none" stroke="#111" stroke-width="1.3" stroke-dasharray="1.3 0.7"/>
<path d="M322.0 275.5H325.8V286.5H378.8V297.6H384.5H384.8V309.2H400.3V320.8H409.5H409.7V333.3H412.0V349.5H418.7V358.0H447.0V376.0H475.4" fill="none" stroke="#b3b3b3" stroke-width="1.5"/>
<path d="M322.0 275.5H344.3V284.4H382.9V293.5H428.1V302.4H433.8V311.3H455.5V333.6H475.7" fill="none" stroke="#111" stroke-width="1.7"/>
<path d="M435.8 311.3L437.7 309.4L439.6 311.3L437.7 313.2Z" fill="#111"/>
<path d="M439.6 311.3L441.5 309.4L443.4 311.3L441.5 313.2Z" fill="#111"/>
<path d="M441.1 311.3L443.0 309.4L444.9 311.3L443.0 313.2Z" fill="#111"/>
<path d="M442.5 311.3L444.4 309.4L446.3 311.3L444.4 313.2Z" fill="#111"/>
<path d="M444.0 311.3L445.9 309.4L447.8 311.3L445.9 313.2Z" fill="#111"/>
<path d="M445.4 311.3L447.3 309.4L449.2 311.3L447.3 313.2Z" fill="#111"/>
<path d="M447.3 311.3L449.2 309.4L451.1 311.3L449.2 313.2Z" fill="#111"/>
<path d="M451.2 311.3L453.1 309.4L455.0 311.3L453.1 313.2Z" fill="#111"/>
<path d="M455.5 333.6L457.4 331.7L459.3 333.6L457.4 335.5Z" fill="#111"/>
<path d="M461.3 333.6L463.2 331.7L465.1 333.6L463.2 335.5Z" fill="#111"/>
<path d="M463.2 333.6L465.1 331.7L467.0 333.6L465.1 335.5Z" fill="#111"/>
<path d="M473.3 333.6L475.2 331.7L477.1 333.6L475.2 335.5Z" fill="#111"/>
<line x1="433.8" y1="356.4" x2="433.8" y2="360.4" stroke="#b3b3b3" stroke-width="1.5"/>
<line x1="459.2" y1="374.2" x2="459.2" y2="378.2" stroke="#b3b3b3" stroke-width="1.5"/>
<line x1="475.4" y1="374.2" x2="475.4" y2="378.2" stroke="#b3b3b3" stroke-width="1.5"/>
<path d="M461.3 385.7L463.0 384.0L464.7 385.7L463.0 387.4Z" fill="#111"/>
<path d="M464.3 385.7L466.0 384.0L467.7 385.7L466.0 387.4Z" fill="#111"/>
<path d="M467.3 385.7L469.0 384.0L470.7 385.7L469.0 387.4Z" fill="#111"/>
<path d="M469.8 385.7L471.5 384.0L473.2 385.7L471.5 387.4Z" fill="#111"/>
<path d="M472.3 385.7L474.0 384.0L475.7 385.7L474.0 387.4Z" fill="#111"/>
<path d="M476.0 385.7L477.7 384.0L479.4 385.7L477.7 387.4Z" fill="#111"/>
<path d="M404.3 340.4L406.0 338.7L407.7 340.4L406.0 342.1Z" fill="#111"/>
<path d="M413.9 347.2L415.6 345.5L417.3 347.2L415.6 348.9Z" fill="#111"/>
<path d="M424.3 358.5L426.0 356.8L427.7 358.5L426.0 360.2Z" fill="#111"/>
<path d="M427.3 362.2L429.0 360.5L430.7 362.2L429.0 363.9Z" fill="#111"/>
<path d="M429.8 362.5L431.5 360.8L433.2 362.5L431.5 364.2Z" fill="#111"/>
<path d="M432.8 362.8L434.5 361.1L436.2 362.8L434.5 364.5Z" fill="#111"/>
<path d="M437.3 366.3L439.0 364.6L440.7 366.3L439.0 368.0Z" fill="#111"/>
<path d="M439.8 366.3L441.5 364.6L443.2 366.3L441.5 368.0Z" fill="#111"/>
<path d="M444.1 370.7L445.8 369.0L447.5 370.7L445.8 372.4Z" fill="#111"/>
<path d="M447.6 370.7L449.3 369.0L451.0 370.7L449.3 372.4Z" fill="#111"/>
<path d="M452.8 375.8L454.5 374.1L456.2 375.8L454.5 377.5Z" fill="#111"/>
<path d="M453.7 380.2L455.4 378.5L457.1 380.2L455.4 381.9Z" fill="#111"/>
<circle cx="434.6" cy="376.7" r="1.4" fill="none" stroke="#b0b0b0" stroke-width="0.9"/>
<circle cx="439.8" cy="381.9" r="1.4" fill="none" stroke="#b0b0b0" stroke-width="0.9"/>
<circle cx="447" cy="385.6" r="1.4" fill="none" stroke="#b0b0b0" stroke-width="0.9"/>
<circle cx="449.5" cy="385.6" r="1.4" fill="none" stroke="#b0b0b0" stroke-width="0.9"/>
<circle cx="452" cy="385.6" r="1.4" fill="none" stroke="#b0b0b0" stroke-width="0.9"/>
<circle cx="455" cy="385.6" r="1.4" fill="none" stroke="#b0b0b0" stroke-width="0.9"/>
<circle cx="471" cy="400.1" r="1.4" fill="none" stroke="#b0b0b0" stroke-width="0.9"/>
<circle cx="477" cy="400.1" r="1.4" fill="none" stroke="#b0b0b0" stroke-width="0.9"/>
<circle cx="480.4" cy="400.1" r="1.4" fill="none" stroke="#b0b0b0" stroke-width="0.9"/>
<circle cx="483" cy="400.1" r="1.4" fill="none" stroke="#b0b0b0" stroke-width="0.9"/>
<circle cx="486.5" cy="400.1" r="1.4" fill="none" stroke="#b0b0b0" stroke-width="0.9"/>
<line x1="29.5" y1="505.6" x2="61.2" y2="505.6" stroke="#111" stroke-width="1.8"/>
<text x="69" y="508.8" font-size="8.48" font-weight="normal" text-anchor="start" fill="#1a1a1a" stroke="#1a1a1a" stroke-width="0.2" >VMP, MRD- median PFS: not reached</text>
<line x1="29.5" y1="518.5" x2="61.2" y2="518.5" stroke="#b3b3b3" stroke-width="1.5"/>
<text x="69" y="521.0" font-size="8.48" font-weight="normal" text-anchor="start" fill="#1a1a1a" stroke="#1a1a1a" stroke-width="0.2" >VTP, MRD- median PFS: 53 months</text>
<line x1="29.5" y1="531.9" x2="61.2" y2="531.9" stroke="#111" stroke-width="1.4" stroke-dasharray="1.2 0.8"/>
<text x="69" y="533.1" font-size="8.48" font-weight="normal" text-anchor="start" fill="#1a1a1a" stroke="#1a1a1a" stroke-width="0.2" >VMP MRD+ median PFS: 28 months</text>
<line x1="29.5" y1="544.6" x2="61.2" y2="544.6" stroke="#c2c2c2" stroke-width="1.2" stroke-dasharray="1.2 0.8"/>
<text x="69" y="544.8" font-size="8.48" font-weight="normal" text-anchor="start" fill="#1a1a1a" stroke="#1a1a1a" stroke-width="0.2" >VTP MRD+ median PFS 27 months</text>
<line x1="289.8" y1="506.2" x2="321.2" y2="506.2" stroke="#111" stroke-width="1.8"/>
<text x="329.2" y="509.4" font-size="8.48" font-weight="normal" text-anchor="start" fill="#1a1a1a" stroke="#1a1a1a" stroke-width="0.2" >VMP, MRD- median OS: not reached</text>
<line x1="289.8" y1="519.0" x2="321.2" y2="519.0" stroke="#b3b3b3" stroke-width="1.5"/>
<text x="329.2" y="521.5" font-size="8.48" font-weight="normal" text-anchor="start" fill="#1a1a1a" stroke="#1a1a1a" stroke-width="0.2" >VTP, MRD- median OS: 73 months</text>
<line x1="289.8" y1="532.1" x2="321.2" y2="532.1" stroke="#111" stroke-width="1.4" stroke-dasharray="1.2 0.8"/>
<text x="329.2" y="533.5" font-size="8.48" font-weight="normal" text-anchor="start" fill="#1a1a1a" stroke="#1a1a1a" stroke-width="0.2" >VMP MRD+ median OS: 62 months</text>
<line x1="289.8" y1="545.4" x2="321.2" y2="545.4" stroke="#c2c2c2" stroke-width="1.2" stroke-dasharray="1.2 0.8"/>
<text x="329.2" y="545.4" font-size="8.48" font-weight="normal" text-anchor="start" fill="#1a1a1a" stroke="#1a1a1a" stroke-width="0.2" >VTP MRD+ median OS 51months</text>
<path d="M469.4 499.9H474Q475.6 499.9 475.6 501.5V518.7Q475.6 520.3 474 520.3H469.4" fill="none" stroke="#111" stroke-width="1.4"/>
<line x1="475.6" y1="510.3" x2="480.8" y2="510.3" stroke="#111" stroke-width="1.4"/>
<text x="484.2" y="511.2" font-size="8.9" font-weight="bold" text-anchor="start" fill="#111" stroke="#111" stroke-width="0.3" >p=0.062</text>
</svg>
</body></html>
